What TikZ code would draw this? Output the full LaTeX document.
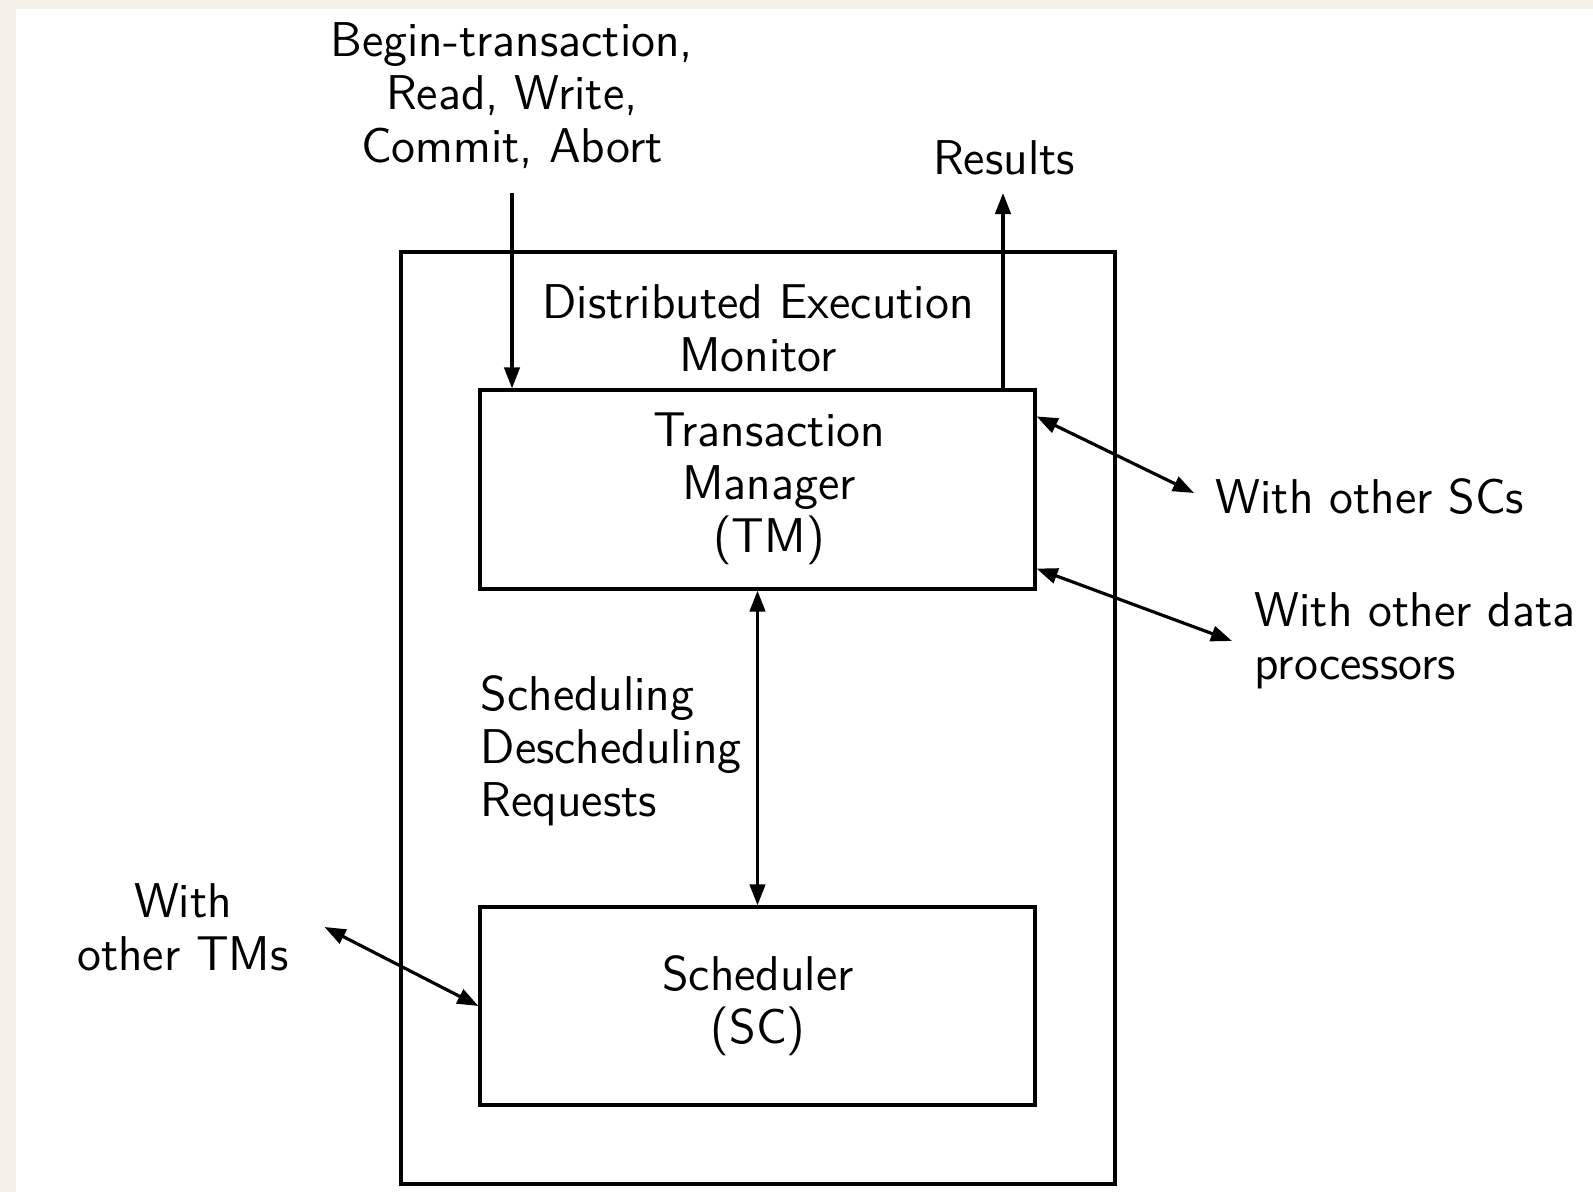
\documentclass[tikz,border=0pt]{standalone}
\usetikzlibrary{arrows.meta}

\tikzset{
  box/.style={draw, line width=0.9pt, inner sep=0pt},
  lbl/.style={align=center, inner sep=0pt, font=\sffamily\fontsize{13.9}{15.1}\selectfont},
  link/.style={line width=0.9pt, -{Triangle[length=6pt,width=4.4pt]}},
  twoway/.style={line width=0.9pt, {Triangle[length=6pt,width=4.4pt]}-{Triangle[length=6pt,width=4.4pt]}}
}

\begin{document}
\begin{tikzpicture}
  % page and margin strips
  \fill[fill={rgb,255:red,243;green,239;blue,233}] (0,0) rectangle (15.93,11.92);
  \fill[white] (0.16,0) rectangle (15.93,11.83);
  \useasboundingbox (0,0) rectangle (15.93,11.92);

  % monitor and its two components
  \node[box, minimum width=7.14cm, minimum height=9.32cm] (dem) at (7.58,4.74) {};
  \node[lbl] (demlbl) at (7.58,8.64) {Distributed Execution\\Monitor};
  \node[box, minimum width=5.55cm, minimum height=1.99cm] (tm) at (7.575,7.025) {};
  \node[lbl] (tmlbl) at (7.69,7.03) {Transaction\\Manager\\(TM)};
  \node[box, minimum width=5.55cm, minimum height=1.98cm] (sc) at (7.575,1.86) {};
  \node[lbl] (sclbl) at (7.58,1.86) {Scheduler\\(SC)};

  % inputs and outputs of the TM
  \node[lbl] (ops) at (5.12,10.96) {Begin-transaction,\\Read, Write,\\Commit, Abort};
  \coordinate (opsend) at (5.12,9.99);
  \draw[link] (opsend) -- (opsend |- tm.north);
  \node[lbl] (res) at (10.04,10.34) {Results};
  \coordinate (resend) at (10.03,9.99);
  \draw[link] (resend |- tm.north) -- (resend);

  \node[lbl, align=left, anchor=west] (req) at (4.80,4.41) {Scheduling\\Descheduling\\Requests};
  \draw[twoway] (tm.south) -- (sc.north);

  % links to other sites
  \node[lbl, anchor=west] (oscs) at (12.15,6.95) {With other SCs};
  \draw[twoway] ([yshift=-2.8mm]tm.north east) -- ([xshift=-2.1mm,yshift=0.4mm]oscs.west);
  \node[lbl, align=left, anchor=west] (odp) at (12.54,5.51) {With other data\\processors};
  \draw[twoway] ([yshift=2.2mm]tm.south east) -- ([xshift=-2.2mm]odp.west);
  \node[lbl] (otm) at (1.83,2.65) {With\\other TMs};
  \draw[twoway] (sc.west) -- ([xshift=3.5mm]otm.east);
\end{tikzpicture}
\end{document}
